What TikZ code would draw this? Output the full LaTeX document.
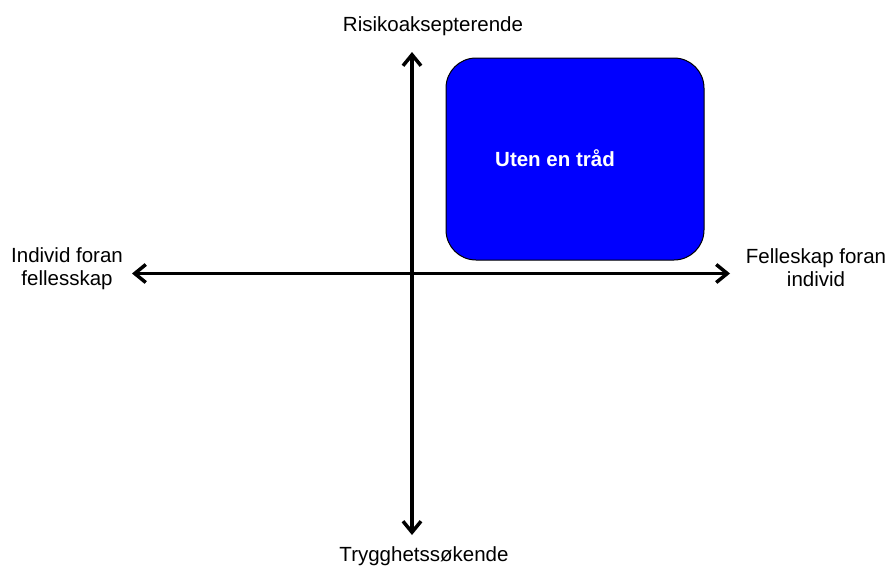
\documentclass[tikz,border=0pt]{standalone}
\usepackage{fontspec}
\setmainfont{Liberation Sans}
\usetikzlibrary{arrows.meta}
\begin{document}
\begin{tikzpicture}[x=1pt,y=-1pt,
  axis/.style={line width=3.5pt,{Straight Barb[length=11pt,width=18pt]}-{Straight Barb[length=11pt,width=18pt]}},
  axislabel/.style={inner sep=0pt,anchor=base,align=center,
    font=\fontsize{20.5}{23.5}\selectfont},
  quadrant/.style={draw=black,line width=1pt,fill=blue,rounded corners=30pt,
    minimum width=258pt,minimum height=202pt,inner sep=0pt},
  quadtext/.style={inner sep=0pt,anchor=base,text=white,
    font=\fontsize{20.5}{23.5}\selectfont\bfseries}]
\useasboundingbox (0,0) rectangle (889,565);

% filled quadrant
\node[quadrant] (box) at (575,159) {};
\node[quadtext] (boxlabel) at (555,166.7) {Uten en tråd};

% axis end points
\coordinate (top) at (412,52);
\coordinate (bottom) at (412,535);
\coordinate (left) at (132,273.5);
\coordinate (right) at (730,273.5);

\draw[axis] (bottom) -- (top);
\draw[axis] (left) -- (right);

% axis labels (base anchor sits on the last line's baseline)
\node[axislabel] (risk) at (433,31.7) {Risikoaksepterende};
\node[axislabel] (safe) at (424,561) {Trygghetssøkende};
\node[axislabel] (indiv) at (67,285.5) {Individ foran\\fellesskap};
\node[axislabel] (comm) at (816,286.5) {Felleskap foran\\individ};
\end{tikzpicture}
\end{document}
